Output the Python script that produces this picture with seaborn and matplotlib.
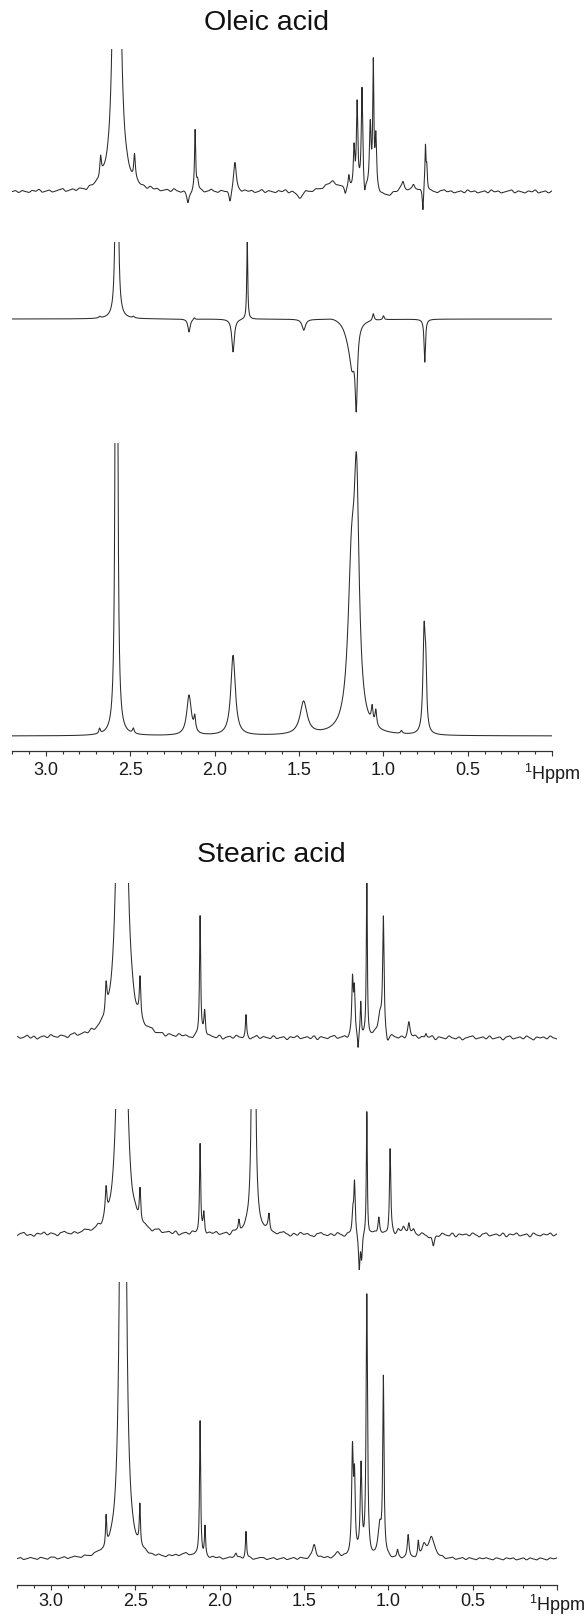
import numpy as np
import matplotlib
matplotlib.use("Agg")
import matplotlib.pyplot as plt
import seaborn as sns
from matplotlib.ticker import FixedLocator, FixedFormatter, MultipleLocator

# ---------------- data ----------------
titles = ["Oleic acid", "Stearic acid"]
tick_values = [3.0, 2.5, 2.0, 1.5, 1.0, 0.5, 0.0]
tick_labels = ["3.0", "2.5", "2.0", "1.5", "1.0", "0.5", r"$\mathregular{^1}$Hppm"]

# peak tables: position (ppm), height (px above baseline), half width (ppm)
t1_pos = [2.675, 2.579, 2.474, 2.158, 2.115, 2.100, 1.908, 1.879, 1.490, 1.300, 1.225, 1.204,
          1.173, 1.155, 1.126, 1.110, 1.077, 1.059, 1.044, 0.980, 0.883, 0.821, 0.765, 0.750, 0.742]
t1_hgt = [22, 1430, 26, -12, 60, 10, -12, 28, -7, 9, -6, 12,
          40, 85, 100, -12, 65, 122, 50, -5, 11, 8, -22, 45, 22]
t1_wid = [0.006, 0.010, 0.006, 0.008, 0.004, 0.006, 0.008, 0.010, 0.020, 0.060, 0.006, 0.005,
          0.005, 0.005, 0.005, 0.005, 0.006, 0.004, 0.005, 0.030, 0.010, 0.010, 0.004, 0.004, 0.004]

t2_pos = [2.680, 2.579, 2.480, 2.151, 2.120, 1.890, 1.806, 1.471, 1.300, 1.210, 1.185, 1.160,
          1.059, 0.999, 0.754]
t2_hgt = [1.5, 1500, 1.5, -13, 2, -33, 80, -11, 2, -10, -40, -75,
          7, 4, -43]
t2_wid = [0.006, 0.003, 0.006, 0.008, 0.005, 0.009, 0.0035, 0.012, 0.05, 0.030, 0.020, 0.008,
          0.006, 0.005, 0.005]

t3_pos = [2.681, 2.581, 2.481, 2.151, 2.117, 1.890, 1.472, 1.188, 1.158, 1.066, 1.044, 0.892,
          0.758, 0.748]
t3_hgt = [5, 2300, 5, 40, 14, 80, 33, 150, 220, 16, 16, 3,
          100, 50]
t3_wid = [0.005, 0.0035, 0.006, 0.016, 0.006, 0.016, 0.025, 0.025, 0.018, 0.006, 0.006, 0.006,
          0.008, 0.006]

t4_pos = [2.672, 2.578, 2.471, 2.115, 2.088, 1.843, 1.212, 1.201, 1.179, 1.163, 1.127, 1.050,
          1.029, 1.005, 0.878, 0.777]
t4_hgt = [30, 2500, 40, 120, 25, 22, 55, 45, -18, 35, 165, 22,
          115, -8, 15, 5]
t4_wid = [0.006, 0.010, 0.005, 0.004, 0.005, 0.004, 0.005, 0.005, 0.004, 0.004, 0.0035, 0.015,
          0.005, 0.010, 0.008, 0.006]

t5_pos = [2.672, 2.578, 2.471, 2.115, 2.093, 1.885, 1.798, 1.707, 1.210, 1.200, 1.172, 1.158,
          1.127, 1.056, 0.989, 0.940, 0.910, 0.878, 0.850, 0.733]
t5_hgt = [28, 1850, 32, 90, 20, 12, 1260, 18, 20, 50, -35, -25,
          125, 18, 85, 5, 6, 12, 5, -12]
t5_wid = [0.006, 0.010, 0.005, 0.004, 0.005, 0.005, 0.005, 0.006, 0.005, 0.005, 0.005, 0.005,
          0.0035, 0.006, 0.0045, 0.010, 0.008, 0.006, 0.008, 0.008]

t6_pos = [2.672, 2.572, 2.472, 2.200, 2.115, 2.086, 1.903, 1.843, 1.439, 1.300, 1.212, 1.200,
          1.161, 1.127, 1.050, 1.029, 0.945, 0.882, 0.822, 0.790, 0.744]
t6_hgt = [30, 2380, 40, 4, 135, 30, 6, 27, 14, 5, 105, 70,
          90, 260, 30, 175, 7, 22, 14, 12, 22]
t6_wid = [0.004, 0.008, 0.004, 0.060, 0.004, 0.004, 0.008, 0.004, 0.012, 0.020, 0.006, 0.005,
          0.006, 0.005, 0.012, 0.0045, 0.005, 0.006, 0.004, 0.015, 0.020]

# baseline ripple (px), one value per 0.02 ppm from 3.2 to 0.0
t1_ripple = [0, 1, -1, 1, 0, -1, 1, 0, 2, -1, 0, 1, -1, 0, 1, 2, -1, 0, 1, -1,
             1, 0, -2, 1, 0, 1, -1, 2, 0, -1, 1, 0, -1, 1, 2, 0, -1, 1, 0, 1,
             -1, 2, 0, 1, -1, 0, 1, -1, 2, 0, -1, 1, 0, -2, 1, 0, 1, -1, 0, 2,
             0, -1, 1, 0, 1, -1, 2, 0, -1, 1, 0, 1, -1, 0, 2, -1, 1, 0, -1, 1,
             0, 2, -1, 1, 0, -1, 1, 2, 0, -1, 1, 0, -1, 1, 0, 2, -1, 0, 1, -1,
             1, 0, -1, 2, 0, 1, -1, 0, 1, -2, 0, 1, -1, 1, 0, 2, -1, 0, 1, -1,
             1, 2, 0, -1, 1, 0, -1, 1, 2, 0, 1, -1, 0, 1, -1, 2, 0, 1, -1, 0,
             1, -1, 2, 0, 1, -1, 0, 1, 2, -1, 1, 0, -1, 1, 0, 2, -1, 0, 1, -1, 1]
t4_ripple = [1, -1, 0, 2, -1, 1, -2, 0, 1, -1, 2, 0, -1, 1, 0, -2, 1, 2, -1, 0,
             1, -1, 2, -1, 0, 1, -2, 1, 0, 2, -1, 1, -1, 0, 2, -2, 1, 0, -1, 1,
             2, -1, 0, 1, -2, 1, 0, -1, 2, 0, 1, -1, -2, 1, 0, 2, -1, 1, 0, -1,
             2, -2, 0, 1, -1, 2, 0, -1, 1, -2, 0, 2, -1, 1, 0, -1, 2, -1, 0, 1,
             -2, 1, 0, 2, -1, 0, 1, -1, 2, -2, 1, 0, -1, 1, 2, -1, 0, 1, -2, 1,
             0, 2, -1, 1, -1, 0, 2, -2, 1, 0, -1, 2, 0, -1, 1, -2, 1, 0, 2, -1,
             1, -1, 0, 2, -2, 1, 0, -1, 2, 0, -1, 1, -2, 0, 1, 2, -1, 0, 1, -1,
             2, -1, 0, 1, -2, 1, 2, -1, 0, 1, -1, 2, 0, -2, 1, 0, 1, -1, 2, 0, -1]
t5_ripple = [-1, 1, 2, -1, 0, -2, 1, 0, 2, -1, 1, 0, -2, 1, 2, 0, -1, 1, -1, 0,
             2, 1, -1, 0, 2, -2, 1, 0, -1, 2, 1, -1, 0, 1, -2, 2, 0, -1, 1, 0,
             -2, 1, 2, -1, 0, 1, -1, 2, -2, 0, 1, -1, 2, 0, -1, 1, -2, 1, 0, 2,
             -1, 0, 1, -2, 2, 1, -1, 0, 2, -1, 1, -2, 0, 1, 2, -1, 0, -1, 1, 2,
             0, -2, 1, -1, 2, 0, 1, -1, -2, 1, 2, 0, -1, 1, -1, 2, 0, -2, 1, 0,
             2, -1, 1, 0, -2, 1, 2, -1, 0, 1, -1, 2, -2, 0, 1, 2, -1, 1, 0, -1,
             2, 0, -2, 1, 1, -1, 2, 0, -1, 2, -2, 1, 0, 1, -1, 2, 0, -2, 1, 2,
             -1, 0, 1, -1, 2, -2, 1, 0, 2, -1, 0, 1, -2, 2, 0, -1, 1, 0, 2, -1, 1]
t6_ripple = [0, 1, -1, 0, 1, 0, -1, 1, 0, -1, 1, 1, -1, 0, 1, -1, 0, 1, 0, -1,
             1, 0, -1, 1, 1, 0, -1, 0, 1, -1, 0, 1, -1, 1, 0, -1, 1, 0, 1, -1,
             0, -1, 1, 0, -1, 1, 0, 1, -1, 0, 1, -1, 0, 1, 1, -1, 0, -1, 1, 0,
             1, -1, 0, 1, 0, -1, 1, -1, 0, 1, -1, 0, 1, 1, -1, 0, 1, -1, 0, 1,
             -1, 0, 1, -1, 1, 0, -1, 1, 0, -1, 1, 0, 1, -1, 0, 1, -1, 1, 0, -1,
             0, 1, -1, 1, 0, -1, 0, 1, -1, 1, 1, -1, 0, 1, -1, 0, 1, 0, -1, 1,
             -1, 1, 0, -1, 1, 0, 1, -1, 0, 1, -1, 0, 1, -1, 1, 0, -1, 1, 0, 1,
             0, -1, 1, 0, -1, 1, 0, 1, -1, 0, 1, -1, 1, 0, -1, 1, 0, -1, 1, 0, 1]
no_ripple = [0]

# ---------------- layout (pixels of the 585 x 1617 figure) ----------------
W, H = 585, 1617
# (peak table, ripple, baseline y, clip top y, bottom y, x left, x right)
traces = [
    (t1_pos, t1_hgt, t1_wid, t1_ripple, 192, 49, 225, 12, 552),
    (t2_pos, t2_hgt, t2_wid, no_ripple, 319, 242, 435, 12, 552),
    (t3_pos, t3_hgt, t3_wid, no_ripple, 736, 443, 745, 12, 552),
    (t4_pos, t4_hgt, t4_wid, t4_ripple, 1038, 883, 1065, 17, 557),
    (t5_pos, t5_hgt, t5_wid, t5_ripple, 1235, 1109, 1270, 17, 557),
    (t6_pos, t6_hgt, t6_wid, t6_ripple, 1559, 1282, 1575, 17, 557),
]
scales = [(751, 12, 552, 4.1), (1585, 17, 557, 2.0)]
title_pos = [(266, 23), (271, 855)]
LINE = "#2b2b2b"

sns.set_style("white")
plt.rcParams['font.family'] = ['Liberation Sans', 'DejaVu Sans']
plt.rcParams['mathtext.fontset'] = 'custom'
plt.rcParams['mathtext.rm'] = 'Liberation Sans'

fig = plt.figure(figsize=(W / 100, H / 100), dpi=100)


def rect(x0, y0, x1, y1):
    return [x0 / W, 1 - y1 / H, (x1 - x0) / W, (y1 - y0) / H]


ppm = np.linspace(3.2, 0.0, 3201)


def spectrum(pos, hgt, wid, ripple):
    y = np.zeros_like(ppm)
    for c, h, w in zip(pos, hgt, wid):
        y += h / (1.0 + ((ppm - c) / w) ** 2)
    if len(ripple) > 1:
        centers = np.linspace(3.2, 0.0, len(ripple))
        for c, h in zip(centers, ripple):
            y += h * np.exp(-0.5 * ((ppm - c) / 0.008) ** 2)
    return y


for pos, hgt, wid, rip, base, top, bot, x0, x1 in traces:
    ax = fig.add_axes(rect(x0, top, x1, bot))
    ax.patch.set_alpha(0)
    y = spectrum(pos, hgt, wid, rip)
    sns.lineplot(x=ppm, y=y, ax=ax, color=LINE, linewidth=0.75,
                 estimator=None, sort=False, legend=False)
    ax.set_xlim(3.2, 0.0)
    ax.set_ylim(-(bot - base), base - top)
    ax.axis('off')

for (ya, x0, x1, pad) in scales:
    ax = fig.add_axes(rect(x0, ya - 10, x1, ya))
    ax.patch.set_alpha(0)
    ax.set_xlim(3.2, 0.0)
    ax.set_ylim(0, 1)
    for s in ['top', 'left', 'right']:
        ax.spines[s].set_visible(False)
    ax.spines['bottom'].set_color('#333333')
    ax.spines['bottom'].set_linewidth(0.9)
    ax.yaxis.set_visible(False)
    ax.xaxis.set_major_locator(FixedLocator(tick_values))
    ax.xaxis.set_major_formatter(FixedFormatter(tick_labels))
    ax.xaxis.set_minor_locator(MultipleLocator(0.1))
    ax.tick_params(axis='x', which='major', direction='out', length=3.8, width=0.8,
                   color='#333333', labelsize=13, pad=pad, labelcolor='#1a1a1a')
    ax.tick_params(axis='x', which='minor', direction='out', length=1.8, width=0.8,
                   color='#333333')
    ax.tick_params(axis='x', which='both', bottom=True)

for t, (xt, yt) in zip(titles, title_pos):
    fig.text(xt / W, 1 - yt / H, t, ha='center', va='center', fontsize=20.5, color='#111111')

fig.savefig("out.png", dpi=100, facecolor='white')
